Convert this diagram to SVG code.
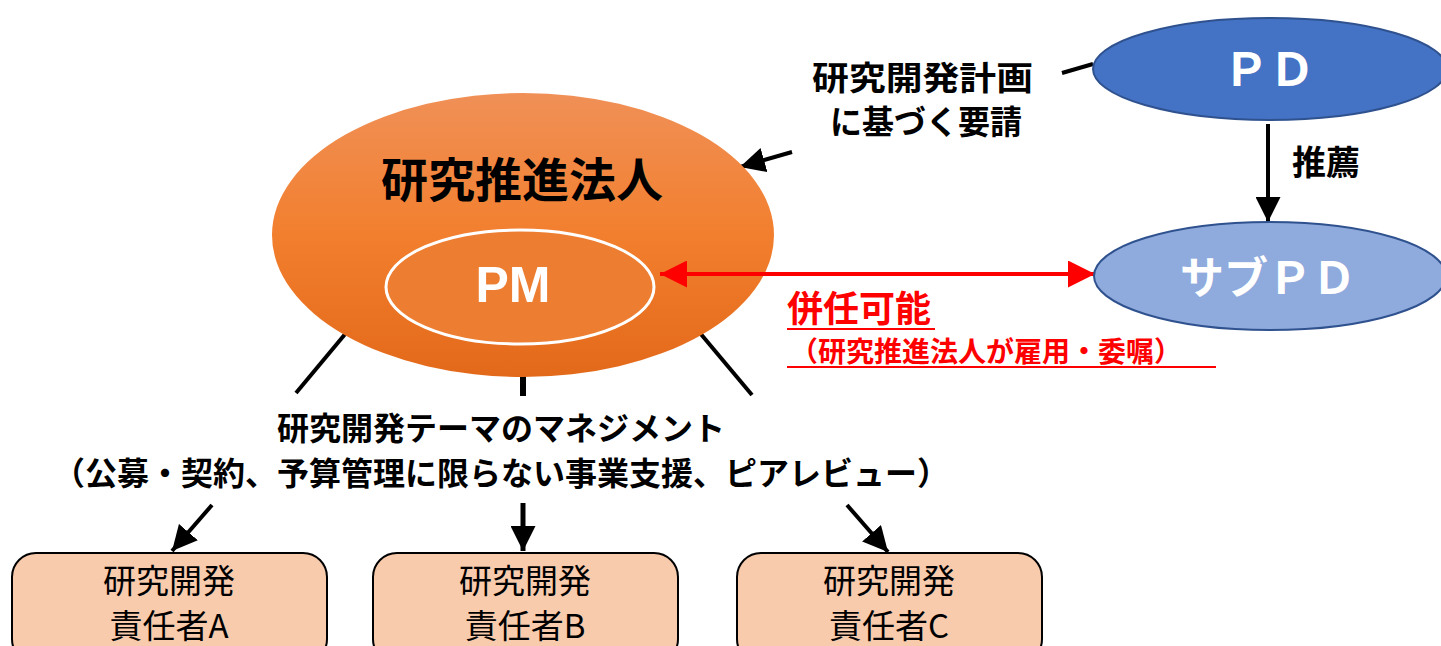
<svg xmlns="http://www.w3.org/2000/svg" width="1441" height="646" viewBox="0 0 1441 646">
<style>
.jp{font-family:"Noto Sans CJK JP","Noto Sans",sans-serif;}
.b{font-weight:bold;}
.ln{stroke:#000;stroke-width:4;fill:none;}
.box{fill:#F8CBAD;stroke:#000;stroke-width:2;}
.bt{font-family:"Noto Sans CJK JP",sans-serif;font-size:33px;fill:#000;text-anchor:middle;}
</style>
<defs>
<linearGradient id="og" x1="0" y1="0" x2="0" y2="1">
<stop offset="0" stop-color="#F09057"/>
<stop offset="0.5" stop-color="#F27F2E"/>
<stop offset="1" stop-color="#E3691A"/>
</linearGradient>
<marker id="ah" viewBox="0 0 10 10" refX="10" refY="5" markerWidth="25" markerHeight="25" markerUnits="userSpaceOnUse" orient="auto">
<path d="M0,0 L10,5 L0,10 Z" fill="#000"/>
</marker>
<marker id="rh" viewBox="0 0 10 10" refX="10" refY="5" markerWidth="27" markerHeight="27" markerUnits="userSpaceOnUse" orient="auto-start-reverse">
<path d="M0,0 L10,5 L0,10 Z" fill="#FF0000"/>
</marker>
</defs>

<g id="connectors">
<line class="ln" x1="1062" y1="73" x2="1093" y2="64"/>
<line class="ln" x1="792" y1="152" x2="740" y2="167" marker-end="url(#ah)"/>
<line class="ln" x1="1268" y1="124" x2="1268" y2="222" marker-end="url(#ah)"/>
<line class="ln" x1="346" y1="333" x2="296" y2="393"/>
<line x1="523" y1="372" x2="523" y2="396" stroke="#000" stroke-width="6"/>
<line class="ln" x1="700" y1="333" x2="752" y2="395"/>
<line class="ln" x1="212" y1="505" x2="172" y2="551" marker-end="url(#ah)"/>
<line x1="523" y1="503" x2="523" y2="551" stroke="#000" stroke-width="5" marker-end="url(#ah)"/>
<line class="ln" x1="847" y1="505" x2="888" y2="552" marker-end="url(#ah)"/>
</g>

<g id="kenkyu-suishin-hojin">
<ellipse cx="523" cy="235" rx="251" ry="142" fill="url(#og)"/>
<text class="jp b" x="522" y="197" font-size="47" text-anchor="middle" fill="#000">研究推進法人</text>
</g>

<g id="pm">
<ellipse cx="520" cy="287" rx="134" ry="57" fill="#ED7D31" stroke="#FFFFFF" stroke-width="3"/>
<text x="513" y="302" font-family="Liberation Sans, Arial, sans-serif" font-weight="bold" font-size="50" text-anchor="middle" fill="#FFFFFF">PM</text>
</g>

<g id="connector-kennin">
<line x1="660" y1="274" x2="1095" y2="274" stroke="#FF0000" stroke-width="4" marker-start="url(#rh)" marker-end="url(#rh)"/>
</g>

<g id="pd">
<ellipse cx="1270" cy="69" rx="177" ry="51" fill="#4472C4" stroke="#2F528F" stroke-width="2"/>
<text class="jp b" x="1269" y="86" font-size="46" text-anchor="middle" fill="#FFFFFF">ＰＤ</text>
</g>

<g id="sub-pd">
<ellipse cx="1270" cy="276" rx="176" ry="54" fill="#8FAADC" stroke="#2F528F" stroke-width="2"/>
<text class="jp b" x="1268" y="294" font-size="44" text-anchor="middle" fill="#FFFFFF">サブＰＤ</text>
</g>

<g id="label-request">
<text class="jp b" x="812" y="90" font-size="33" textLength="221" lengthAdjust="spacingAndGlyphs" fill="#000">研究開発計画</text>
<text class="jp b" x="830" y="134" font-size="33" textLength="192" lengthAdjust="spacingAndGlyphs" fill="#000">に基づく要請</text>
</g>

<g id="label-suisen">
<text class="jp b" x="1326" y="175" font-size="34" text-anchor="middle" fill="#000">推薦</text>
</g>

<g id="label-kennin">
<text class="jp b" x="787" y="322" font-size="36" fill="#FF0000">併任可能</text>
<line x1="787" y1="329" x2="935" y2="329" stroke="#FF0000" stroke-width="2"/>
<text class="jp b" x="790" y="362" font-size="28" fill="#FF0000">（研究推進法人が雇用・委嘱）</text>
<line x1="787" y1="367" x2="1216" y2="367" stroke="#FF0000" stroke-width="2"/>
</g>

<g id="label-management">
<text class="jp b" x="501" y="440" font-size="32" text-anchor="middle" fill="#000">研究開発テーマのマネジメント</text>
<text class="jp b" x="501" y="485" font-size="32" text-anchor="middle" fill="#000">（公募・契約、予算管理に限らない事業支援、ピアレビュー）</text>
</g>

<g id="sekininsha-a">
<rect class="box" x="12" y="553" width="315" height="110" rx="24"/>
<text class="bt" x="169" y="593">研究開発</text>
<text class="bt" x="169" y="638">責任者A</text>
</g>

<g id="sekininsha-b">
<rect class="box" x="373" y="553" width="305" height="110" rx="24"/>
<text class="bt" x="525" y="593">研究開発</text>
<text class="bt" x="525" y="638">責任者B</text>
</g>

<g id="sekininsha-c">
<rect class="box" x="737" y="553" width="305" height="110" rx="24"/>
<text class="bt" x="889" y="593">研究開発</text>
<text class="bt" x="889" y="638">責任者C</text>
</g>
</svg>
